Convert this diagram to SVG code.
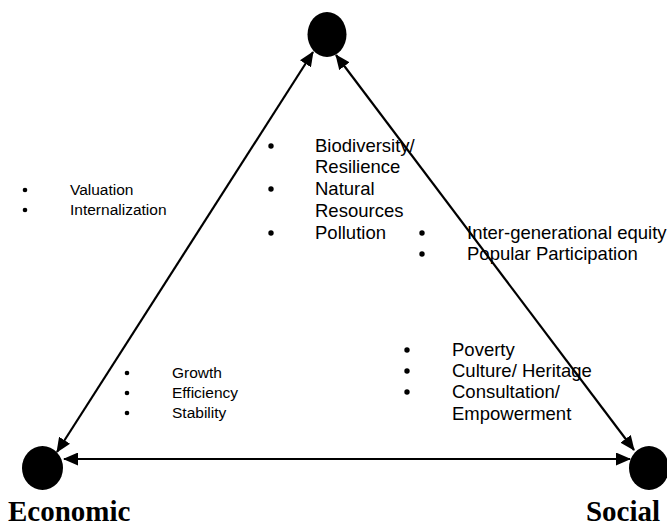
<svg xmlns="http://www.w3.org/2000/svg" width="667" height="527" viewBox="0 0 667 527">
<defs>
<style>
.node{fill:#000}
.conn{stroke:#000;stroke-width:2.2;fill:none;marker-start:url(#ah);marker-end:url(#ah)}
.s{font-family:"Liberation Sans",Arial,sans-serif;font-size:15.5px;fill:#000}
.l{font-family:"Liberation Sans",Arial,sans-serif;font-size:18.5px;fill:#000}
.lab{font-family:"Liberation Serif","Times New Roman",serif;font-size:29px;font-weight:bold;fill:#000}
.b{fill:#000}
</style>
<marker id="ah" viewBox="0 0 15 13" markerWidth="15" markerHeight="13" refX="14" refY="6.5" orient="auto-start-reverse" markerUnits="userSpaceOnUse">
<path d="M0,0 L15,6.5 L0,13 Z" fill="#000"/>
</marker>
</defs>
<rect width="667" height="527" fill="#fff"/>
<g id="connectors">
<line class="conn" x1="313" y1="52" x2="57" y2="452"/>
<line class="conn" x1="336" y1="55" x2="634" y2="450"/>
<line class="conn" x1="64" y1="459" x2="630" y2="459"/>
</g>
<g id="node-environmental">
<ellipse class="node" cx="327" cy="34.5" rx="19.5" ry="22.5"/>
</g>
<g id="node-economic">
<ellipse class="node" cx="42.5" cy="468" rx="20.5" ry="22"/>
<text class="lab" x="8" y="521">Economic</text>
</g>
<g id="node-social">
<ellipse class="node" cx="649" cy="468" rx="20" ry="22"/>
<text class="lab" x="660" y="521" text-anchor="end">Social</text>
</g>
<g id="list-valuation">
<circle class="b" cx="25" cy="190" r="2.3"/>
<circle class="b" cx="25" cy="210" r="2.3"/>
<text class="s" x="70" y="195">Valuation</text>
<text class="s" x="70" y="215">Internalization</text>
</g>
<g id="list-environment">
<circle class="b" cx="271" cy="146" r="2.7"/>
<circle class="b" cx="271" cy="189" r="2.7"/>
<circle class="b" cx="271" cy="233" r="2.7"/>
<text class="l" x="315" y="152">Biodiversity/</text>
<text class="l" x="315" y="173">Resilience</text>
<text class="l" x="315" y="195">Natural</text>
<text class="l" x="315" y="217">Resources</text>
<text class="l" x="315" y="239">Pollution</text>
</g>
<g id="list-equity">
<circle class="b" cx="422" cy="233" r="2.7"/>
<circle class="b" cx="422" cy="254" r="2.7"/>
<text class="l" x="467" y="239">Inter-generational equity</text>
<text class="l" x="467" y="260">Popular Participation</text>
</g>
<g id="list-economic">
<circle class="b" cx="127" cy="373" r="2.3"/>
<circle class="b" cx="127" cy="393" r="2.3"/>
<circle class="b" cx="127" cy="413" r="2.3"/>
<text class="s" x="172" y="378">Growth</text>
<text class="s" x="172" y="398">Efficiency</text>
<text class="s" x="172" y="418">Stability</text>
</g>
<g id="list-social">
<circle class="b" cx="407" cy="350" r="2.7"/>
<circle class="b" cx="407" cy="371" r="2.7"/>
<circle class="b" cx="407" cy="392" r="2.7"/>
<text class="l" x="452" y="356">Poverty</text>
<text class="l" x="452" y="377">Culture/ Heritage</text>
<text class="l" x="452" y="398">Consultation/</text>
<text class="l" x="452" y="420">Empowerment</text>
</g>
</svg>
